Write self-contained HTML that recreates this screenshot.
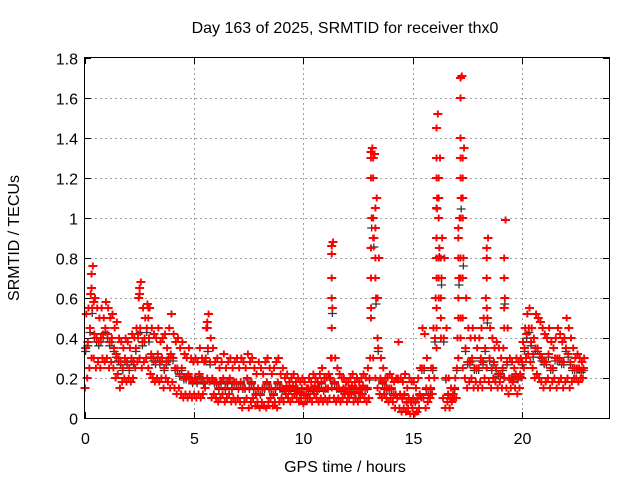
<!DOCTYPE html>
<html><head><meta charset="utf-8"><style>
body{margin:0;background:#fff;}
svg{display:block;font-family:"Liberation Sans",sans-serif;}
</style></head><body>
<svg id="chart" width="640" height="480">
<text x="345" y="33" font-size="16" text-anchor="middle">Day 163 of 2025, SRMTID for receiver thx0</text>
<text x="345" y="472" font-size="16" text-anchor="middle">GPS time / hours</text>
<text transform="translate(19,238) rotate(-90)" font-size="16" text-anchor="middle">SRMTID / TECUs</text>
<g id="grid"></g>
<g id="ticks"></g>
<g id="marks"></g>
<rect x="84.5" y="57.5" width="525" height="361" fill="none" stroke="#000"/>
</svg>
<script>
const t0 = 0, dt = 0.1;
const xTicks = [0,5,10,15,20];
const yTicks = [0,0.2,0.4,0.6,0.8,1,1.2,1.4,1.6,1.8];
const yTickLabels = ["0","0.2","0.4","0.6","0.8","1","1.2","1.4","1.6","1.8"];
const srmtidHigh = [
.52,.55,.62,.76,.6,.55,.5,.55,.5,.58,
.55,.5,.52,.45,.48,.4,.38,.35,.4,.38,
.35,.42,.4,.45,.6,.68,.55,.5,.57,.55,
.45,.42,.4,.45,.38,.4,.42,.35,.45,.52,
.42,.38,.4,.35,.38,.32,.3,.35,.3,.28,
.3,.28,.35,.3,.28,.45,.52,.4,.35,.28,
.3,.25,.28,.32,.25,.28,.3,.25,.28,.3,
.25,.3,.28,.25,.32,.28,.3,.25,.22,.28,
.25,.22,.28,.3,.25,.22,.25,.28,.3,.22,
.25,.2,.22,.18,.2,.22,.18,.2,.18,.2,
.18,.15,.2,.18,.22,.2,.18,.22,.25,.2,
.2,.22,.3,.88,.3,.25,.22,.2,.2,.18,
.18,.2,.22,.18,.2,.18,.2,.22,.2,.25,
.3,1.35,1.32,1.1,.8,.3,.25,.2,.2,.22,
.2,.18,.2,.38,.2,.18,.22,.15,.2,.18,
.18,.15,.2,.25,.45,.42,.3,.2,.25,.45,
.6,1.52,1.3,.9,.8,.45,.2,.15,.12,.2,
.4,1.0,1.71,1.35,.6,.45,.4,.45,.4,.35,
.4,.45,.5,.6,.9,.45,.4,.35,.38,.35,
.3,.35,.99,.45,.3,.28,.25,.3,.28,.3,
.38,.45,.52,.55,.45,.4,.52,.5,.48,.45,
.42,.4,.45,.38,.35,.4,.45,.42,.38,.4,
.5,.45,.4,.35,.3,.32,.3,.28,.3];
const srmtidMid = [
.35,.38,.45,.55,.42,.4,.38,.4,.42,.45,
.42,.38,.4,.35,.32,.3,.28,.25,.3,.28,
.25,.3,.28,.35,.42,.45,.38,.4,.45,.4,
.32,.3,.28,.32,.28,.3,.25,.28,.3,.32,
.3,.25,.25,.22,.25,.2,.2,.22,.2,.18,
.2,.18,.22,.2,.18,.3,.35,.28,.2,.18,
.18,.15,.18,.2,.15,.18,.2,.15,.18,.18,
.15,.18,.15,.15,.2,.15,.18,.15,.12,.15,
.12,.15,.15,.18,.15,.15,.12,.15,.18,.15,
.15,.14,.16,.14,.15,.16,.14,.15,.13,.15,
.12,.12,.15,.14,.15,.16,.14,.15,.18,.14,
.15,.15,.2,.55,.18,.15,.15,.14,.15,.15,
.13,.15,.16,.13,.15,.13,.15,.16,.15,.15,
.2,1.0,.9,.6,.35,.2,.18,.15,.15,.15,
.15,.12,.12,.2,.12,.1,.12,.08,.1,.08,
.1,.08,.1,.12,.25,.25,.15,.12,.15,.25,
.4,1.1,.85,.7,.4,.2,.12,.1,.1,.15,
.25,.7,1.1,.8,.35,.28,.28,.3,.25,.25,
.25,.3,.28,.35,.5,.3,.25,.28,.25,.22,
.22,.25,.6,.28,.2,.2,.2,.22,.2,.22,
.28,.35,.42,.45,.38,.32,.35,.35,.32,.3,
.28,.28,.32,.25,.25,.3,.3,.3,.28,.28,
.35,.32,.28,.25,.25,.25,.25,.24,.25];
const srmtidLow = [
.15,.2,.25,.3,.3,.25,.28,.25,.3,.28,
.3,.25,.28,.25,.2,.22,.15,.18,.2,.18,
.2,.18,.2,.25,.28,.3,.25,.28,.3,.25,
.22,.2,.18,.2,.18,.2,.15,.2,.18,.15,
.18,.15,.12,.15,.12,.1,.12,.1,.12,.1,
.12,.1,.12,.1,.12,.15,.2,.18,.1,.12,
.1,.08,.1,.12,.08,.1,.12,.08,.1,.08,
.1,.08,.05,.08,.1,.05,.08,.1,.06,.08,
.05,.08,.06,.05,.08,.1,.06,.08,.05,.08,
.1,.08,.12,.1,.08,.1,.12,.1,.08,.1,
.07,.08,.1,.1,.08,.12,.1,.08,.1,.08,
.1,.08,.1,.15,.1,.08,.1,.08,.1,.12,
.08,.1,.12,.08,.1,.08,.1,.12,.1,.08,
.1,.5,.3,.2,.15,.12,.1,.12,.1,.08,
.1,.08,.05,.1,.05,.03,.05,.03,.05,.02,
.05,.02,.03,.05,.1,.1,.05,.08,.1,.12,
.2,.35,.6,.4,.1,.05,.08,.05,.08,.1,
.1,.3,.4,.25,.2,.15,.18,.2,.15,.18,
.15,.18,.15,.2,.25,.18,.15,.2,.18,.15,
.18,.15,.2,.15,.12,.15,.18,.15,.12,.15,
.2,.25,.3,.32,.28,.25,.2,.22,.2,.18,
.15,.18,.2,.15,.18,.2,.15,.18,.2,.15,
.18,.2,.15,.18,.2,.2,.18,.2,.2];
const spikeTimes = [
11.3,11.3,11.3,11.3,11.3,11.3,
13.1,13.1,13.1,13.1,13.1,13.1,13.2,13.2,13.2,13.2,13.3,13.3,13.3,13.3,13.4,13.4,
16.1,16.1,16.1,16.1,16.1,16.1,16.1,16.1,16.1,16.2,16.2,16.2,16.2,16.2,16.3,16.3,16.3,
17.1,17.1,17.1,17.1,17.1,17.2,17.2,17.2,17.2,17.2,17.2,17.2,17.2,17.2,17.3,17.3,17.3,17.3,17.3,17.3,
18.4,18.4,18.4,18.4,19.2,19.2,19.2,19.2,
0.3,0.3,0.4,2.5,2.5,2.9,2.9,5.6,5.6];
const spikeValues = [
.3,.45,.6,.7,.82,.86,
.55,.7,.85,1.2,1.3,1.33,.9,1.0,1.2,1.3,.7,.8,.95,1.05,.4,.6,
.45,.55,.7,.8,.9,1.05,1.2,1.3,1.45,.7,.8,1.0,1.1,1.2,.5,.6,.8,
.5,.6,.8,.9,.95,.5,.7,.8,1.0,1.2,1.3,1.4,1.6,1.7,.5,.7,1.0,1.1,1.2,1.3,
.55,.7,.8,.85,.45,.55,.7,.8,
.65,.72,.58,.62,.65,.5,.55,.45,.48];

const X0=85, X1=609, Y0=418, Y1=58, XMAX=24, YMAX=1.8;
function xs(v){return X0+(X1-X0)*v/XMAX;}
function ys(v){return Y0-(Y0-Y1)*v/YMAX;}
const NS="http://www.w3.org/2000/svg";
const grid=document.getElementById('grid'), ticks=document.getElementById('ticks'), marks=document.getElementById('marks');
function mk(tag,attrs,parent){const e=document.createElementNS(NS,tag);for(const k in attrs)e.setAttribute(k,attrs[k]);parent.appendChild(e);return e;}
xTicks.forEach(v=>{
  const x=Math.round(xs(v))+0.5;
  if(v>0){const g=mk('line',{x1:x,x2:x,y1:Y1,y2:Y0,stroke:'#a0a0a0','stroke-dasharray':'2,3'},grid);
  
  }
  mk('line',{x1:x,x2:x,y1:Y0,y2:Y0-6,stroke:'#000'},ticks);
  mk('line',{x1:x,x2:x,y1:Y1,y2:Y1+6,stroke:'#000'},ticks);
  const t=mk('text',{x:x,y:Y0+26,'font-size':16,'text-anchor':'middle'},ticks);
  t.textContent=v;
  
  
});
yTicks.forEach((v,i)=>{
  const y=Math.round(ys(v))+0.5;
  if(v>0&&v<1.8){const g=mk('line',{x1:X0,x2:X1,y1:y,y2:y,stroke:'#a0a0a0','stroke-dasharray':'2,3'},grid);
  
  }
  mk('line',{x1:X0,x2:X0+6,y1:y,y2:y,stroke:'#000'},ticks);
  mk('line',{x1:X1,x2:X1-6,y1:y,y2:y,stroke:'#000'},ticks);
  const t=mk('text',{x:X0-7,y:y+6,'font-size':16,'text-anchor':'end'},ticks);
  t.textContent=yTickLabels[i];
  
  
});
function plus(x,y){return `M${x-4.5} ${y}h9M${x} ${y-3.5}v7`;}
let grey='', red='';
srmtidMid.forEach((v,i)=>{const t=t0+i*dt+0.03;grey+=plus(xs(t),ys(v*0.95));});
[srmtidLow,srmtidMid,srmtidHigh].forEach((arr,k)=>{
  arr.forEach((v,i)=>{const t=t0+i*dt+k*0.03;red+=plus(xs(t),ys(v));});
});
spikeValues.forEach((v,i)=>{red+=plus(xs(spikeTimes[i]),ys(v));});
const pg=mk('path',{d:grey,stroke:'#333',fill:'none','stroke-width':1.3},marks);


const pr=mk('path',{d:red,stroke:'#ff0000',fill:'none','stroke-width':1.9},marks);


</script>
</body></html>
